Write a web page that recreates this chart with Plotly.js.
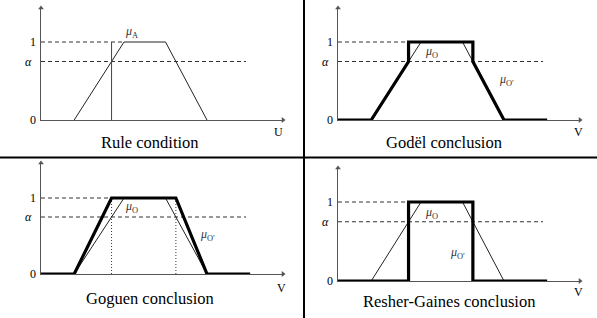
<!DOCTYPE html>
<html>
<head>
<meta charset="utf-8">
<script src="https://cdn.plot.ly/plotly-3.0.1.min.js"></script>
<style>html,body{margin:0;padding:0;background:#fff;}#chart{width:597px;height:318px;}</style>
</head>
<body>
<div id="chart"></div>
<script>
// ---- data ----
const alpha = 0.75;
const yTickVals = [0, alpha, 1];
const yTickText = ['0', '<i>α</i>', '1'];
const captions = ['Rule condition', 'Godël conclusion', 'Goguen conclusion', 'Resher-Gaines conclusion'];
const axisNames = ['U', 'V', 'V', 'V'];
// membership function of A / O (trapezoid)
const muX = [2, 5, 7.5, 10];
const muY = [0, 1, 1, 0];
// alpha-cut positions
const cutX = [4.25, 8.125];
// conclusions
const godelX = [0, 2, 4.25, 4.25, 8.125, 8.125, 10, 12.6];
const godelY = [0, 0, 0.75, 1, 1, 0.75, 0, 0];
const goguenX = [0, 2, 4.25, 8.125, 10, 12.6];
const goguenY = [0, 0, 1, 1, 0, 0];
const rgX = [0, 4.25, 4.25, 8.125, 8.125, 12.6];
const rgY = [0, 0, 1, 1, 0, 0];
const alphaLineEnd = 12.35;
const muLabels = [
  [{t: '<i>μ</i><sub>A</sub>', x: 4.95, y: 1.13}],
  [{t: '<i>μ</i><sub>O</sub>', x: 5.15, y: 0.87}, {t: '<i>μ</i><sub>O′</sub>', x: 9.6, y: 0.51}],
  [{t: '<i>μ</i><sub>O</sub>', x: 4.95, y: 0.88}, {t: '<i>μ</i><sub>O′</sub>', x: 9.45, y: 0.51}],
  [{t: '<i>μ</i><sub>O</sub>', x: 5.15, y: 0.86}, {t: '<i>μ</i><sub>O′</sub>', x: 6.6, y: 0.36}]
];

// ---- geometry (pixels) ----
const W = 597, H = 318, PXU = 16.6;
const FONT = 'Liberation Serif, serif';
const panels = [
  {ox: 41, oy: 120, p1: 42, top: 8, right: 283, capY: 142, nameY: 132, capX: 150, nameX: 278},
  {ox: 338, oy: 120, p1: 42, top: 8, right: 580, capY: 142, nameY: 132, capX: 444, nameX: 578},
  {ox: 41, oy: 274, p1: 198, top: 163, right: 283, capY: 298, nameY: 288, capX: 150, nameX: 281},
  {ox: 338, oy: 281, p1: 202, top: 168, right: 580, capY: 301, nameY: 292, capX: 449, nameX: 578}
];

const traces = [];
const annotations = [];
const layout = {
  width: W, height: H, margin: {l: 0, r: 0, t: 0, b: 0},
  paper_bgcolor: '#fff', plot_bgcolor: 'rgba(0,0,0,0)', showlegend: false,
  font: {family: FONT, color: '#000'},
  shapes: [
    {type: 'line', xref: 'paper', yref: 'paper', x0: 304 / W, x1: 304 / W, y0: 0, y1: 1, line: {color: '#000', width: 2}},
    {type: 'line', xref: 'paper', yref: 'paper', x0: 0, x1: 1, y0: 1 - 157.5 / H, y1: 1 - 157.5 / H, line: {color: '#000', width: 2}}
  ],
  annotations: annotations
};

const thin = {color: '#222', width: 1};
const thick = {color: '#000', width: 3.2};
const dashed = {color: '#333', width: 1, dash: '4px,3px'};

panels.forEach((p, i) => {
  const n = i === 0 ? '' : String(i + 1);
  const xa = 'x' + n, ya = 'y' + n;
  const pyu = p.oy - p.p1;
  const xmax = (p.right - p.ox) / PXU;
  const ymax = (p.oy - p.top) / pyu;
  layout['xaxis' + n] = {
    domain: [p.ox / W, p.right / W], range: [0, xmax], anchor: ya,
    showgrid: false, zeroline: false, showticklabels: false, ticks: '',
    showline: true, linecolor: '#555', linewidth: 1, fixedrange: true
  };
  layout['yaxis' + n] = {
    domain: [1 - p.oy / H, 1 - p.top / H], range: [0, ymax], anchor: xa,
    showgrid: false, zeroline: false, showticklabels: false, ticks: '',
    showline: true, linecolor: '#555', linewidth: 1, fixedrange: true
  };
  const add = (x, y, line) => traces.push({x, y, xaxis: xa, yaxis: ya, mode: 'lines', line, hoverinfo: 'skip', cliponaxis: false});
  // dashed reference lines
  const topEnd = i === 0 ? muX[1] : cutX[0];
  add([0, topEnd], [1, 1], dashed);
  add([0, alphaLineEnd], [alpha, alpha], dashed);
  // thin membership function
  add(muX, muY, thin);
  if (i === 0) {
    add([cutX[0], cutX[0]], [0, 1], {color: '#444', width: 1});
  } else if (i === 1) {
    add(godelX, godelY, thick);
  } else if (i === 2) {
    add([cutX[0], cutX[0]], [0, 1], {color: '#333', width: 1, dash: '1px,2px'});
    add([cutX[1], cutX[1]], [0, 1], {color: '#333', width: 1, dash: '1px,2px'});
    add(goguenX, goguenY, thick);
  } else {
    add(rgX, rgY, thick);
  }
  // arrowheads at axis tips
  traces.push({x: [xmax], y: [0], xaxis: xa, yaxis: ya, mode: 'markers', cliponaxis: false, hoverinfo: 'skip',
    marker: {symbol: 'triangle-right', size: 5, color: '#555', line: {width: 0}}});
  traces.push({x: [0], y: [ymax], xaxis: xa, yaxis: ya, mode: 'markers', cliponaxis: false, hoverinfo: 'skip',
    marker: {symbol: 'triangle-up', size: 5, color: '#555', line: {width: 0}}});
  // y tick labels
  yTickVals.forEach((v, k) => {
    annotations.push({xref: xa, yref: ya, x: 0, y: v, text: yTickText[k], showarrow: false,
      xanchor: 'right', yanchor: 'middle', xshift: k === 1 ? -7 : -3,
      font: {size: 12, family: FONT, color: '#000'}});
  });
  // axis name
  annotations.push({xref: 'paper', yref: 'paper', x: p.nameX / W, y: 1 - p.nameY / H,
    text: axisNames[i], showarrow: false, xanchor: 'center', yanchor: 'middle',
    font: {size: 12, family: FONT, color: '#000'}});
  // caption
  annotations.push({xref: 'paper', yref: 'paper', x: p.capX / W, y: 1 - p.capY / H,
    text: captions[i], showarrow: false, xanchor: 'center', yanchor: 'middle',
    font: {size: 16.5, family: FONT, color: '#000'}});
  // mu labels
  muLabels[i].forEach(m => {
    annotations.push({xref: xa, yref: ya, x: m.x, y: m.y, text: m.t, showarrow: false,
      xanchor: 'left', yanchor: 'middle',
      font: {size: 12, family: FONT, color: '#333'}});
  });
});

Plotly.newPlot('chart', traces, layout, {displayModeBar: false, staticPlot: true});
</script>
</body>
</html>
